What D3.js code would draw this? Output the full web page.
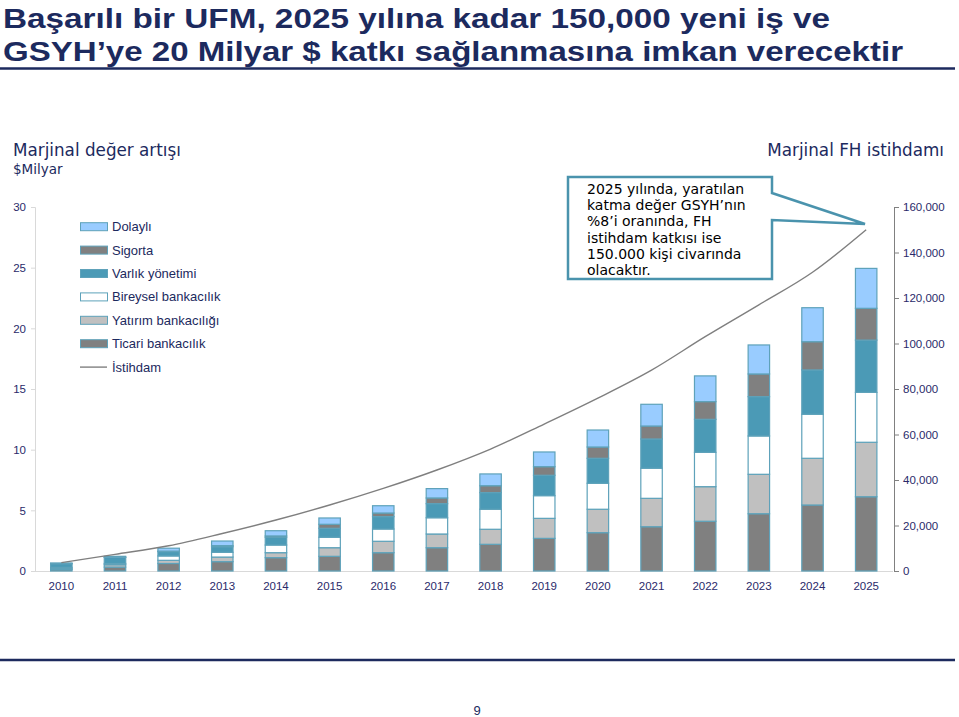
<!DOCTYPE html>
<html>
<head>
<meta charset="UTF-8">
<title>UFM katkı</title>
<script src="https://d3js.org/d3.v7.min.js"></script>
<style>
  body { margin: 0; background: #fff; }
  svg { display: block; }
</style>
</head>
<body>
<svg id="chart" width="959" height="717"></svg>
<script>
// yillar
var years = ["2010","2011","2012","2013","2014","2015","2016","2017",
             "2018","2019","2020","2021","2022","2023","2024","2025"];

// $Milyar, alttan uste
var ticari   = [0.12, 0.32, 0.62, 0.77, 1.10, 1.21, 1.51, 1.92, 2.20, 2.69, 3.16, 3.65, 4.10, 4.72, 5.44, 6.12];
var yatirim  = [0.08, 0.20, 0.26, 0.38, 0.41, 0.71, 0.94, 1.13, 1.24, 1.65, 1.93, 2.34, 2.85, 3.25, 3.85, 4.49];
var bireysel = [0.10, 0.10, 0.36, 0.39, 0.63, 0.86, 1.01, 1.34, 1.65, 1.87, 2.14, 2.48, 2.83, 3.16, 3.63, 4.11];
var varlik   = [0.30, 0.50, 0.36, 0.46, 0.64, 0.74, 1.02, 1.16, 1.37, 1.68, 2.06, 2.41, 2.72, 3.24, 3.65, 4.31];
var sigorta  = [0.02, 0.02, 0.04, 0.09, 0.11, 0.33, 0.30, 0.47, 0.57, 0.71, 0.93, 1.07, 1.46, 1.87, 2.33, 2.62];
var dolayli  = [0.04, 0.07, 0.24, 0.38, 0.43, 0.52, 0.60, 0.77, 0.97, 1.21, 1.40, 1.79, 2.12, 2.39, 2.80, 3.29];

// istihdam (kisi)
var istihdam = [3700, 7300, 11100, 16500, 22400, 29000, 36300, 44400,
                53600, 64600, 76000, 88300, 103000, 117000, 131300, 150000];

var leftTicks  = [0, 5, 10, 15, 20, 25, 30];
var rightTicks = [0, 20000, 40000, 60000, 80000, 100000, 120000, 140000, 160000];

var seriesNames  = ["Ticari bankacılık", "Yatırım bankacılığı", "Bireysel bankacılık",
                    "Varlık yönetimi", "Sigorta", "Dolaylı"];
var seriesColors = ["#808080", "#c0c0c0", "#ffffff", "#4b9ab6", "#808080", "#99ccff"];

var navy = "#1c2a5e";
var tickColor = "#2a2a6a";
var outline = "#5ea2ba";

var svg = d3.select("#chart");

// ---- baslik ----
svg.append("text").attr("x", 3).attr("y", 28)
  .attr("font-family", "Liberation Sans, Arial, sans-serif").attr("font-weight", "bold")
  .attr("font-size", 28).attr("fill", navy)
  .attr("textLength", 827).attr("lengthAdjust", "spacingAndGlyphs")
  .text("Başarılı bir UFM, 2025 yılına kadar 150,000 yeni iş ve");
svg.append("text").attr("x", 3).attr("y", 61)
  .attr("font-family", "Liberation Sans, Arial, sans-serif").attr("font-weight", "bold")
  .attr("font-size", 28).attr("fill", navy)
  .attr("textLength", 900).attr("lengthAdjust", "spacingAndGlyphs")
  .text("GSYH’ye 20 Milyar $ katkı sağlanmasına imkan verecektir");
svg.append("line").attr("x1", 0).attr("x2", 955).attr("y1", 68.5).attr("y2", 68.5)
  .attr("stroke", navy).attr("stroke-width", 2.5);
svg.append("line").attr("x1", 0).attr("x2", 955).attr("y1", 660).attr("y2", 660)
  .attr("stroke", navy).attr("stroke-width", 2.5);
svg.append("text").attr("x", 477).attr("y", 715).attr("text-anchor", "middle")
  .attr("font-family", "Liberation Sans, Arial, sans-serif").attr("font-size", 13)
  .attr("fill", navy).text("9");

// ---- grafik basliklari ----
svg.append("text").attr("x", 13).attr("y", 156)
  .attr("font-family", "DejaVu Sans, Verdana, sans-serif").attr("font-size", 16.8)
  .attr("fill", navy).text("Marjinal değer artışı");
svg.append("text").attr("x", 13).attr("y", 174)
  .attr("font-family", "DejaVu Sans, Verdana, sans-serif").attr("font-size", 13.5)
  .attr("fill", navy).text("$Milyar");
svg.append("text").attr("x", 944).attr("y", 156).attr("text-anchor", "end")
  .attr("font-family", "DejaVu Sans, Verdana, sans-serif").attr("font-size", 16.8)
  .attr("fill", navy).text("Marjinal FH istihdamı");

// ---- olcekler ----
var x = d3.scaleBand().domain(years).range([34.5, 893]).paddingInner(0.6).paddingOuter(0.3);
var yL = d3.scaleLinear().domain([0, 30]).range([571, 207]);
var yR = d3.scaleLinear().domain([0, 160000]).range([571, 207]);

// ---- eksenler ----
var axL = svg.append("g").attr("transform", "translate(35,0)")
  .call(d3.axisLeft(yL).tickValues(leftTicks).tickSize(4).tickPadding(5));
axL.select(".domain").attr("stroke", "#d9d9d9");
axL.selectAll(".tick line").attr("stroke", "#d9d9d9");
axL.selectAll("text").attr("font-family", "Liberation Sans, Arial, sans-serif")
  .attr("font-size", 11.5).attr("fill", tickColor);

var axR = svg.append("g").attr("transform", "translate(894,0)")
  .call(d3.axisRight(yR).tickValues(rightTicks).tickSize(5).tickPadding(4)
    .tickFormat(d3.format(",")));
axR.select(".domain").attr("stroke", "#808080");
axR.selectAll(".tick line").attr("stroke", "#808080");
axR.selectAll("text").attr("font-family", "Liberation Sans, Arial, sans-serif")
  .attr("font-size", 11.5).attr("fill", tickColor);

var axX = svg.append("g").attr("transform", "translate(0,571)")
  .call(d3.axisBottom(x).tickSize(0).tickPadding(11));
axX.select(".domain").attr("stroke", "#d9d9d9").attr("d", "M35,0.5H893");
axX.selectAll("text").attr("font-family", "Liberation Sans, Arial, sans-serif")
  .attr("font-size", 11.5).attr("fill", tickColor);

// ---- yigilmis cubuklar ----
var rows = years.map(function(yr, i) {
  return { year: yr, s0: ticari[i], s1: yatirim[i], s2: bireysel[i],
           s3: varlik[i], s4: sigorta[i], s5: dolayli[i] };
});
var stack = d3.stack().keys(["s0","s1","s2","s3","s4","s5"]);
var layers = stack(rows);

svg.append("g").selectAll("g").data(layers).enter().append("g")
  .attr("fill", function(d, i) { return seriesColors[i]; })
  .selectAll("rect").data(function(d) { return d; }).enter().append("rect")
    .attr("x", function(d) { return x(d.data.year); })
    .attr("width", x.bandwidth())
    .attr("y", function(d) { return yL(d[1]); })
    .attr("height", function(d) { return yL(d[0]) - yL(d[1]); })
    .attr("stroke", outline).attr("stroke-width", 1.2);

// ---- istihdam cizgisi ----
var line = d3.line()
  .x(function(d, i) { return x(years[i]) + x.bandwidth() / 2; })
  .y(function(d) { return yR(d); })
  .curve(d3.curveMonotoneX);
svg.append("path").datum(istihdam).attr("d", line)
  .attr("fill", "none").attr("stroke", "#7f7f7f").attr("stroke-width", 1.4);

// ---- lejant ----
var legendOrder = [5, 4, 3, 2, 1, 0];
var leg = svg.append("g").attr("font-family", "Liberation Sans, Arial, sans-serif")
  .attr("font-size", 13).attr("fill", navy);
legendOrder.forEach(function(k, i) {
  var cy = 226.7 + i * 23.4;
  leg.append("rect").attr("x", 80.5).attr("y", cy - 4).attr("width", 27).attr("height", 8)
    .attr("fill", seriesColors[k]).attr("stroke", outline).attr("stroke-width", 1);
  leg.append("text").attr("x", 112).attr("y", cy + 4.5).text(seriesNames[k]);
});
var cyL = 226.7 + 6 * 23.4;
leg.append("line").attr("x1", 80).attr("x2", 107).attr("y1", cyL).attr("y2", cyL)
  .attr("stroke", "#808080").attr("stroke-width", 1.4);
leg.append("text").attr("x", 112).attr("y", cyL + 4.5).text("İstihdam");

// ---- aciklama kutusu ----
svg.append("path")
  .attr("d", "M568,177H772V193L865,224L772,220V279H568Z")
  .attr("fill", "#fff").attr("stroke", "#4a93ad").attr("stroke-width", 2.5)
  .attr("stroke-linejoin", "miter");
var note = ["2025 yılında, yaratılan", "katma değer GSYH’nın", "%8’i oranında, FH",
            "istihdam katkısı ise", "150.000 kişi civarında", "olacaktır."];
svg.append("g").selectAll("text").data(note).enter().append("text")
  .attr("x", 587).attr("y", function(d, i) { return 194 + i * 16.2; })
  .attr("font-family", "DejaVu Sans, Verdana, sans-serif").attr("font-size", 14)
  .attr("fill", "#000").text(function(d) { return d; });
</script>
</body>
</html>
